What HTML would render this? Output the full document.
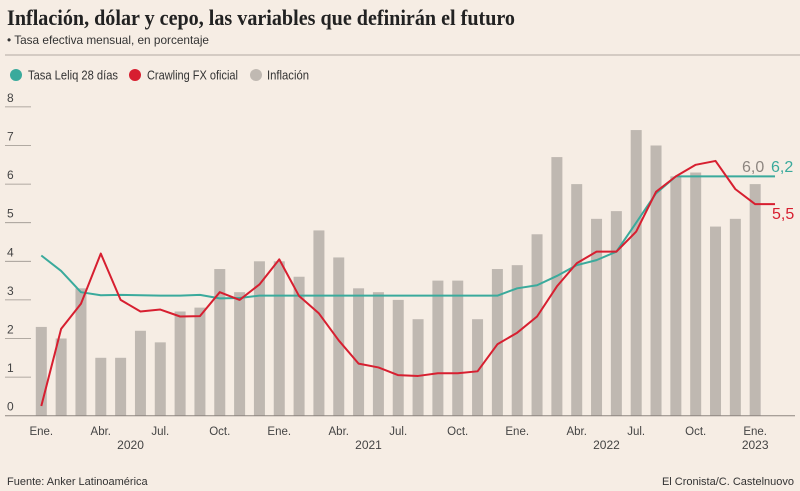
<!DOCTYPE html>
<html><head><meta charset="utf-8"><style>
html,body{margin:0;padding:0;background:#f6ede4;}
svg{display:block;font-family:"Liberation Sans",sans-serif;}
</style></head><body>
<svg id="chart" width="800" height="491" viewBox="0 0 800 491">
<rect width="800" height="491" fill="#f6ede4"/>
<text x="7" y="25" font-family="Liberation Serif, serif" font-weight="bold" font-size="22" fill="#222" textLength="508" lengthAdjust="spacingAndGlyphs">Inflación, dólar y cepo, las variables que definirán el futuro</text>
<text x="7" y="44" font-size="12" fill="#333" textLength="202" lengthAdjust="spacingAndGlyphs">• Tasa efectiva mensual, en porcentaje</text>
<line x1="5" y1="55" x2="800" y2="55" stroke="#c9c0b8" stroke-width="1.5"/>
<g>
<g><circle cx="16" cy="75" r="6" fill="#3aaa9c"/><text x="28" y="79.5" font-size="12.5" fill="#333" textLength="90" lengthAdjust="spacingAndGlyphs">Tasa Leliq 28 días</text></g>
<g><circle cx="135" cy="75" r="6" fill="#d71f30"/><text x="147" y="79.5" font-size="12.5" fill="#333" textLength="91" lengthAdjust="spacingAndGlyphs">Crawling FX oficial</text></g>
<g><circle cx="256" cy="75" r="6" fill="#c0b9b2"/><text x="267" y="79.5" font-size="12.5" fill="#333" textLength="42" lengthAdjust="spacingAndGlyphs">Inflación</text></g>
</g>
<g id="grid"></g><g id="bars"></g><g id="lines"></g><g id="xaxis"></g>
<text x="742" y="172" font-size="16" fill="#8d8680">6,0</text>
<text x="771" y="172" font-size="16" fill="#3aaa9c">6,2</text>
<text x="772" y="219" font-size="16" fill="#d71f30">5,5</text>
<text x="7" y="485" font-size="11" fill="#333">Fuente: Anker Latinoamérica</text>
<text x="794" y="485" font-size="11" fill="#333" text-anchor="end">El Cronista/C. Castelnuovo</text>
</svg>
<script>
const yTicks=[0,1,2,3,4,5,6,7,8];
const monthLabels=["Ene.","Abr.","Jul.","Oct."];
const years=["2020","2021","2022","2023"];
const inflacion=[2.3,2.0,3.3,1.5,1.5,2.2,1.9,2.7,2.8,3.8,3.2,4.0,4.0,3.6,4.8,4.1,3.3,3.2,3.0,2.5,3.5,3.5,2.5,3.8,3.9,4.7,6.7,6.0,5.1,5.3,7.4,7.0,6.2,6.3,4.9,5.1,6.0];
const leliq=[4.15,3.75,3.2,3.12,3.13,3.12,3.11,3.11,3.13,3.04,3.05,3.11,3.11,3.11,3.11,3.11,3.11,3.11,3.11,3.11,3.11,3.11,3.11,3.11,3.3,3.38,3.62,3.9,4.03,4.25,5.0,5.76,6.2,6.2,6.2,6.2,6.2,6.2];
const crawling=[0.25,2.25,2.9,4.2,3.0,2.7,2.75,2.57,2.58,3.2,3.0,3.4,4.05,3.1,2.65,1.95,1.35,1.25,1.05,1.03,1.1,1.1,1.15,1.85,2.15,2.57,3.35,3.95,4.25,4.25,4.77,5.8,6.2,6.5,6.6,5.87,5.48,5.48];
const NS="http://www.w3.org/2000/svg";
const x=i=>41.3+i*19.83;
const y=v=>415.7-v*38.6;
function mk(tag,attrs,parent){const e=document.createElementNS(NS,tag);for(const k in attrs)e.setAttribute(k,attrs[k]);parent.appendChild(e);return e;}
const grid=document.getElementById('grid');
yTicks.forEach(t=>{
  if(t>0){const l=mk('line',{x1:5,x2:31,y1:y(t),y2:y(t),stroke:'#9a938d','stroke-width':0.8},grid);
  
  }
  const tx=mk('text',{x:7,y:y(t)-5,'font-size':12,fill:'#444'},grid);tx.textContent=t;
  
  
});
const bars=document.getElementById('bars');
inflacion.forEach((v,i)=>{
  const r=mk('rect',{x:x(i)-5.5,y:y(v),width:11,height:y(0)-y(v),fill:'#bfb8b1'},bars);
  
  
});
const lines=document.getElementById('lines');
function line(data,color,name){
  const p=mk('polyline',{points:data.map((v,i)=>x(i)+','+y(v)).join(' '),fill:'none',stroke:color,'stroke-width':2,'stroke-linejoin':'round'},lines);
  
  
}
line(leliq,'#3aaa9c','line-leliq');
line(crawling,'#d71f30','line-crawling');
const xa=document.getElementById('xaxis');
const ax=mk('line',{x1:5,x2:795,y1:y(0),y2:y(0),stroke:'#8d8680','stroke-width':1},xa);


for(let i=0;i<inflacion.length;i+=3){
  const t=mk('text',{x:x(i),y:435,'font-size':11.5,fill:'#444','text-anchor':'middle'},xa);
  t.textContent=monthLabels[(i/3)%4];
  
  
}
years.forEach((yr,k)=>{
  const i=k*12+(k<3?4.5:0);
  const t=mk('text',{x:x(i),y:449,'font-size':12,fill:'#444','text-anchor':'middle'},xa);
  t.textContent=yr;
  
  
});
</script>
</body></html>
